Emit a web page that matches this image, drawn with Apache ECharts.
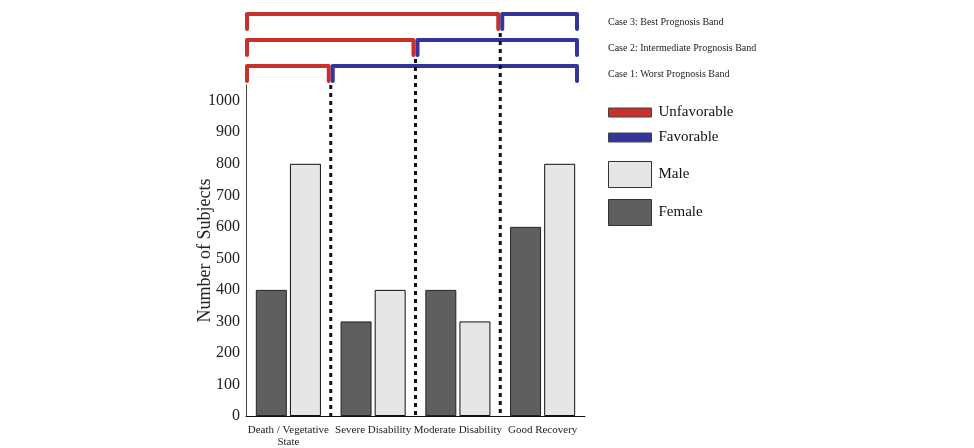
<!DOCTYPE html>
<html>
<head>
<meta charset="utf-8">
<script src="https://cdn.jsdelivr.net/npm/echarts@6/dist/echarts.min.js"></script>
<style>
  html, body { margin: 0; padding: 0; background: #fff; }
  #chart { width: 974px; height: 448px; }
</style>
</head>
<body>
<div id="chart"></div>
<script>
var categories = ['Death / Vegetative\nState', 'Severe Disability', 'Moderate Disability', 'Good Recovery'];
var female = [400, 300, 400, 600];
var male = [800, 400, 300, 800];
var yMax = 1000;
var yStep = 100;

// how many outcome categories count as unfavorable in each case
var caseNames = ['Case 1: Worst Prognosis Band', 'Case 2: Intermediate Prognosis Band', 'Case 3: Best Prognosis Band'];
var caseSplits = [1, 2, 3];

var serif = "'Liberation Serif', 'Times New Roman', serif";
var red = '#c8302c';
var blue = '#34349a';

var caseData = caseSplits.map(function (s, i) { return [i, s]; });

function bracketRow(cs, idx) {
    return cs.y - 19 - 26 * idx;
}

function makeBracket(part) {
    return function (params, api) {
        var cs = params.coordSys;
        var idx = api.value(0);
        var split = api.value(1);
        var top = bracketRow(cs, idx);
        var xs = api.coord([split, 0])[0];
        var x0, x1;
        if (part === 'bad') {
            x0 = api.coord([0, 0])[0] + 1;
            x1 = xs - 2;
        } else {
            x0 = xs + 2;
            x1 = api.coord([categories.length, 0])[0] - 8;
        }
        return {
            type: 'polyline',
            shape: { points: [[x0, top + 15], [x0, top], [x1, top], [x1, top + 15]] },
            style: {
                fill: null,
                stroke: part === 'bad' ? red : blue,
                lineWidth: 4,
                lineCap: 'round',
                lineJoin: 'round'
            }
        };
    };
}

var chart = echarts.init(document.getElementById('chart'));

chart.setOption({
    animation: false,
    grid: { left: 246, right: 389, top: 85, bottom: 32 },
    legend: [{
        orient: 'vertical',
        left: 608,
        top: 105,
        padding: 0,
        itemWidth: 43,
        itemHeight: 9,
        itemGap: 10,
        icon: 'rect',
        selectedMode: false,
        textStyle: { fontFamily: serif, fontSize: 15, color: '#111', padding: [0, 0, 0, 2] },
        data: [
            { name: 'Unfavorable', itemStyle: { color: red, borderColor: '#444', borderWidth: 1 } },
            { name: 'Favorable', itemStyle: { color: blue, borderColor: '#444', borderWidth: 1 } }
        ]
    }, {
        orient: 'vertical',
        left: 608,
        top: 161,
        padding: 0,
        itemWidth: 43,
        itemHeight: 26,
        itemGap: 11,
        icon: 'rect',
        selectedMode: false,
        textStyle: { fontFamily: serif, fontSize: 15, color: '#111', padding: [0, 0, 0, 2] },
        data: [
            { name: 'Male', itemStyle: { color: '#e6e6e6', borderColor: '#333', borderWidth: 1 } },
            { name: 'Female', itemStyle: { color: '#5f5f5f', borderColor: '#333', borderWidth: 1 } }
        ]
    }],
    xAxis: [{
        type: 'category',
        data: categories,
        axisLine: { lineStyle: { color: '#111', width: 1 } },
        axisTick: { show: false },
        axisLabel: {
            fontFamily: serif,
            fontSize: 11,
            lineHeight: 12,
            color: '#222',
            margin: 8,
            interval: 0
        }
    }, {
        type: 'value',
        min: 0,
        max: categories.length,
        show: false
    }],
    yAxis: {
        type: 'value',
        min: 0,
        max: yMax + 50,
        interval: yStep,
        name: 'Number of Subjects',
        nameLocation: 'middle',
        nameGap: 32,
        nameMoveOverlap: false,
        nameTextStyle: { fontFamily: serif, fontSize: 18, color: '#222' },
        axisLine: { show: true, lineStyle: { color: '#444', width: 1 } },
        axisTick: { show: false },
        splitLine: { show: false },
        axisLabel: {
            fontFamily: serif,
            fontSize: 16,
            color: '#222',
            margin: 6,
            formatter: function (v) { return v > yMax ? '' : v; }
        }
    },
    series: [{
        name: 'Female',
        type: 'bar',
        data: female,
        barWidth: 31,
        barGap: '10%',
        itemStyle: { color: '#5f5f5f', borderColor: '#222', borderWidth: 1 }
    }, {
        name: 'Male',
        type: 'bar',
        data: male,
        barWidth: 31,
        itemStyle: { color: '#e6e6e6', borderColor: '#111', borderWidth: 1 }
    }, {
        name: 'Unfavorable',
        type: 'custom',
        xAxisIndex: 1,
        clip: false,
        silent: true,
        data: caseData,
        renderItem: makeBracket('bad')
    }, {
        name: 'Favorable',
        type: 'custom',
        xAxisIndex: 1,
        clip: false,
        silent: true,
        data: caseData,
        renderItem: makeBracket('good')
    }, {
        name: 'bands',
        type: 'custom',
        xAxisIndex: 1,
        clip: false,
        silent: true,
        data: caseData,
        renderItem: function (params, api) {
            var cs = params.coordSys;
            var idx = api.value(0);
            var top = bracketRow(cs, idx);
            var xs = api.coord([api.value(1), 0])[0];
            return {
                type: 'group',
                children: [{
                    type: 'line',
                    shape: { x1: xs, y1: top + 19, x2: xs, y2: cs.y + cs.height },
                    style: { stroke: '#111', lineWidth: 3, lineDash: [4, 4] }
                }, {
                    type: 'text',
                    style: {
                        x: cs.x + cs.width + 23,
                        y: top + 8,
                        text: caseNames[idx],
                        fontFamily: serif,
                        fontSize: 10,
                        fill: '#222',
                        verticalAlign: 'middle'
                    }
                }]
            };
        }
    }]
});
</script>
</body>
</html>
